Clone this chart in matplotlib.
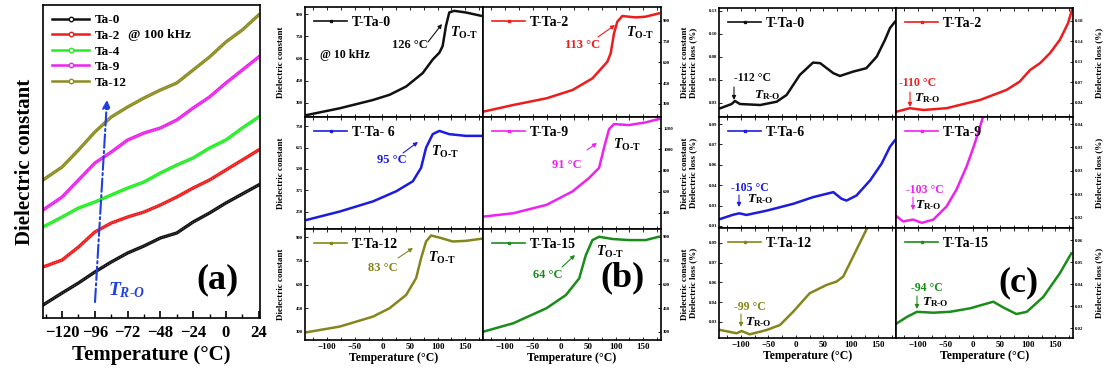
import matplotlib
matplotlib.use("Agg")
import matplotlib.pyplot as plt
from matplotlib.lines import Line2D
from matplotlib.patches import FancyArrowPatch
from matplotlib.ticker import MultipleLocator

W, H = 1107, 376

# ── panel (a): dielectric constant at 100 kHz ───────────────────────────────
a_temp = [-134, -120, -108, -96, -84, -72, -60, -48, -36, -24, -12, 0, 12, 24]
a_ta0 = [13, 25, 35, 46, 56, 65, 72, 80, 85, 96, 105, 115, 124, 133]
a_ta2 = [51, 58, 71, 86, 95, 101, 106, 113, 121, 130, 138, 148, 158, 168]
a_ta4 = [91, 101, 110, 116, 123, 130, 136, 145, 153, 160, 170, 178, 190, 201]
a_ta9 = [108, 121, 138, 155, 166, 178, 185, 190, 198, 210, 221, 235, 248, 261]
a_ta12 = [138, 151, 168, 186, 201, 211, 220, 228, 235, 248, 261, 276, 288, 303]
a_names = ["Ta-0", "Ta-2", "Ta-4", "Ta-9", "Ta-12"]

# ── panel (b): dielectric constant at 10 kHz ────────────────────────────────
b0_t = [-137, -77, -17, 13, 43, 73, 91, 103, 109, 115, 121, 130, 151, 178]
b0_v = [218, 264, 320, 355, 411, 502, 593, 639, 684, 820, 911, 922, 911, 889]
b2_t = [-139, -85, -25, 22, 58, 85, 91, 97, 103, 112, 136, 154, 178]
b2_v = [245, 293, 341, 401, 485, 605, 666, 810, 894, 935, 925, 930, 954]
b6_t = [-137, -77, -17, 25, 55, 70, 79, 91, 103, 121, 151, 178]
b6_v = [203, 252, 311, 370, 428, 507, 624, 703, 722, 703, 693, 693]
b9_t = [-139, -85, -25, 22, 52, 70, 79, 88, 97, 124, 154, 178]
b9_v = [365, 397, 476, 603, 730, 825, 1016, 1190, 1238, 1229, 1254, 1286]
b12_t = [-137, -77, -17, 13, 43, 61, 70, 79, 88, 103, 127, 151, 178]
b12_v = [298, 334, 397, 450, 534, 640, 766, 872, 910, 897, 872, 876, 889]
b15_t = [-139, -85, -25, 10, 34, 46, 58, 70, 94, 124, 154, 178]
b15_v = [302, 355, 450, 533, 638, 785, 880, 901, 887, 880, 880, 901]
b_peaks = ["126 °C", "113 °C", "95 °C", "91 °C", "83 °C", "64 °C"]

# ── panel (c): dielectric loss ──────────────────────────────────────────────
c0_t = [-138, -117, -111, -102, -65, -35, -17, 7, 31, 44, 68, 80, 104, 128, 147, 162, 171, 180]
c0_v = [0.0192, 0.0239, 0.0272, 0.0239, 0.0228, 0.0264, 0.0337, 0.0554, 0.0688, 0.0682,
        0.0573, 0.0543, 0.059, 0.0627, 0.0753, 0.0935, 0.1062, 0.113]
c2_t = [-139, -115, -90, -48, 13, 61, 85, 104, 122, 140, 158, 173, 181]
c2_v = [0.0251, 0.031, 0.028, 0.031, 0.0451, 0.0622, 0.0764, 0.0963, 0.1078, 0.1248,
        0.1476, 0.1761, 0.2017]
c6_t = [-138, -114, -103, -90, -53, -5, 31, 68, 83, 92, 110, 135, 156, 171, 180]
c6_v = [0.0201, 0.0233, 0.0243, 0.0231, 0.0263, 0.0313, 0.0362, 0.0399, 0.035, 0.0337,
        0.0374, 0.0486, 0.061, 0.0733, 0.078]
c9_t = [-139, -127, -109, -93, -72, -48, -30, -11, 4, 19]
c9_v = [0.0203, 0.0192, 0.0196, 0.0189, 0.0196, 0.0224, 0.026, 0.0311, 0.0361, 0.0418]
c12_t = [-138, -108, -99, -84, -53, -29, -5, 25, 56, 74, 86, 104, 122, 131]
c12_v = [0.0239, 0.0214, 0.0231, 0.0206, 0.0239, 0.0277, 0.0378, 0.0518, 0.0582, 0.0607,
         0.0645, 0.0797, 0.095, 0.1026]
c15_t = [-139, -120, -102, -72, -42, -5, 37, 55, 79, 98, 128, 158, 179]
c15_v = [0.0221, 0.0251, 0.0274, 0.027, 0.0274, 0.029, 0.032, 0.0294, 0.0264, 0.0274,
         0.0342, 0.0449, 0.054]
c_peaks = ["-112 °C", "-110 °C", "-105 °C", "-103 °C", "-99 °C", "-94 °C"]

# y tick positions / printed labels (labels in the source are rounded oddly)
b_yticks = [[300, 450, 600, 750, 900], [300, 450, 600, 750, 900],
            [250, 375, 500, 625, 750], [400, 600, 800, 1000, 1200],
            [300, 450, 600, 750, 900], [300, 450, 600, 750, 900]]
c_yticks = [[0.025, 0.05, 0.075, 0.1, 0.125], [0.04, 0.075, 0.11, 0.145, 0.18],
            [0.015, 0.03, 0.045, 0.06, 0.075, 0.09], [0.02, 0.025, 0.03, 0.035, 0.04],
            [0.03, 0.045, 0.06, 0.075, 0.09], [0.02, 0.03, 0.04, 0.05, 0.06]]
c_ylabels = [["0.03", "0.05", "0.08", "0.10", "0.13"], ["0.04", "0.07", "0.11", "0.14", "0.18"],
             ["0.01", "0.03", "0.04", "0.06", "0.07", "0.09"], ["0.02", "0.03", "0.03", "0.03", "0.04"],
             ["0.03", "0.04", "0.06", "0.07", "0.09"], ["0.02", "0.03", "0.04", "0.05", "0.06"]]

plt.rcParams["font.family"] = ["Liberation Serif", "DejaVu Serif"]
plt.rcParams["font.weight"] = "bold"
plt.rcParams["axes.labelweight"] = "bold"
plt.rcParams["mathtext.fontset"] = "custom"
plt.rcParams["mathtext.rm"] = "Liberation Serif:bold"
plt.rcParams["mathtext.bf"] = "Liberation Serif:bold"
plt.rcParams["mathtext.it"] = "Liberation Serif:italic:bold"
plt.rcParams["xtick.direction"] = "in"
plt.rcParams["ytick.direction"] = "in"
plt.rcParams["axes.linewidth"] = 1.2

fig = plt.figure(figsize=(W / 100, H / 100), dpi=100)


def add_box(l, t, r, b):
    return fig.add_axes([l / W, 1 - b / H, (r - l) / W, (b - t) / H])


def fp(x, y):
    return (x / W, 1 - y / H)


def note(text, x, y, color="k", size=9, ha="center"):
    fig.text(*fp(x, y), text, color=color, fontsize=size, ha=ha, va="center",
             fontweight="bold")


def arrow(x0, y0, x1, y1, color="k", ls="-", lw=0.8, scale=6):
    fig.add_artist(FancyArrowPatch(fp(x0, y0), fp(x1, y1), transform=fig.transFigure,
                                   arrowstyle="-|>", color=color, lw=lw, linestyle=ls,
                                   mutation_scale=scale, shrinkA=0, shrinkB=0))


# ── (a) ─────────────────────────────────────────────────────────────────────
ax = add_box(43, 5, 260, 318)
a_series = [a_ta0, a_ta2, a_ta4, a_ta9, a_ta12]
a_cols = ["#111111", "#ee1c1c", "#22ee22", "#ee22ee", "#8c8c22"]
handles = []
for vals, col, name in zip(a_series, a_cols, a_names):
    ax.plot(a_temp, vals, color=col, lw=2.4)
    ax.plot(a_temp, vals, color="white", lw=0.6, ls=(0, (0.8, 1.8)), alpha=0.5)
    handles.append(Line2D([], [], color=col, lw=1.8, marker="o", ms=3.2,
                          mfc="white", mec=col, mew=1.0))
ax.set_xlim(-134, 25)
ax.set_ylim(0, 313)
ax.set_yticks([])
ax.xaxis.set_major_locator(MultipleLocator(24))
ax.xaxis.set_minor_locator(MultipleLocator(12))
ax.tick_params(axis="x", which="major", length=5, width=1.2, labelsize=12, pad=5)
ax.tick_params(axis="x", which="minor", length=3, width=1.0)
ax.set_xlabel("Temperature (°C)", fontsize=15, labelpad=3)
ax.set_ylabel("Dielectric constant", fontsize=15, labelpad=6)
ax.legend(handles=handles, labels=a_names, loc="upper left", frameon=False,
          handlelength=2.8, labelspacing=0.25, handletextpad=0.4,
          borderaxespad=0.3, prop={"weight": "bold", "size": 9.5})
note("@ 100 kHz", 128, 35, size=9.5, ha="left")
note("(a)", 217, 280, size=26)
arrow(95, 302, 107, 100, color="#1f3fe0", ls="-.", lw=1.5, scale=12)
fig.text(*fp(108, 290), r"$T_{R\text{-}O}$", color="#1f3fe0", fontsize=14,
         ha="left", va="center")

# ── (b) and (c) grids ───────────────────────────────────────────────────────
b_cols_px = [(305, 483), (483, 661)]
b_rows_px = [(7, 117), (117, 229), (229, 340)]
c_cols_px = [(719, 896), (896, 1073)]
c_rows_px = [(8, 117), (117, 228), (228, 338)]

names_b = ["T-Ta-0", "T-Ta-2", "T-Ta- 6", "T-Ta-9", "T-Ta-12", "T-Ta-15"]
names_c = ["T-Ta-0", "T-Ta-2", "T-Ta-6", "T-Ta-9", "T-Ta-12", "T-Ta-15"]
cols6 = ["#111111", "#ee1c1c", "#1c1ce0", "#ee22ee", "#85851c", "#1a8c1a"]
b_data = [(b0_t, b0_v), (b2_t, b2_v), (b6_t, b6_v), (b9_t, b9_v), (b12_t, b12_v), (b15_t, b15_v)]
c_data = [(c0_t, c0_v), (c2_t, c2_v), (c6_t, c6_v), (c9_t, c9_v), (c12_t, c12_v), (c15_t, c15_v)]
b_ylims = [(205, 948), (206, 1000), (150, 803), (248, 1305), (249, 951), (249, 950)]
c_ylims = [(0.0098, 0.128), (0.016, 0.202), (0.0135, 0.0952), (0.0178, 0.0415),
           (0.0178, 0.1014), (0.0155, 0.0655)]


def small_panel(box, data, color, name, ylim, yticks, ylabels, right, ylabel, bottom):
    (l, r), (t, b) = box
    ax = add_box(l, t, r, b)
    ax.plot(*data, color=color, lw=1.8)
    ax.set_xlim(-140, 182)
    ax.set_ylim(*ylim)
    ax.set_yticks(yticks)
    ax.set_yticklabels(ylabels if ylabels else [str(v) for v in yticks])
    ax.xaxis.set_major_locator(MultipleLocator(50))
    ax.xaxis.set_minor_locator(MultipleLocator(25))
    ax.tick_params(axis="y", labelsize=3.5, length=2, width=0.6, pad=1.5)
    ax.tick_params(axis="x", which="both", top=True, length=2, width=0.6,
                   labelsize=6.5, pad=2, labelbottom=bottom)
    if right:
        ax.yaxis.tick_right()
        ax.yaxis.set_label_position("right")
        ax.set_ylabel(ylabel, fontsize=6.5, rotation=90)
    else:
        ax.set_ylabel(ylabel, fontsize=6.5)
    if bottom:
        ax.set_xlabel("Temperature (°C)", fontsize=8.5, labelpad=1)
    h = Line2D([], [], color=color, lw=1.2, marker="s", ms=1.5)
    ax.legend(handles=[h], labels=[name], loc="upper left", frameon=False,
              handlelength=2.4, handletextpad=0.3, borderaxespad=0.25,
              prop={"weight": "bold", "size": 10})
    return ax


for i in range(6):
    row, col = divmod(i, 2)
    axb = small_panel((b_cols_px[col], b_rows_px[row]), b_data[i], cols6[i], names_b[i],
                      b_ylims[i], b_yticks[i], None, col == 1, "Dielectric constant", row == 2)
    axb.yaxis.set_label_coords(1.115 if col else -0.112, 0.5)
    axc = small_panel((c_cols_px[col], c_rows_px[row]), c_data[i], cols6[i], names_c[i],
                      c_ylims[i], c_yticks[i], c_ylabels[i], col == 1, "Dielectric loss (%)", row == 2)
    axc.yaxis.set_label_coords(1.124 if col else -0.124, 0.5)

# (b) annotations: peak temperature, arrow, T_O-T
tot = r"$T_{\mathrm{O\text{-}T}}$"
b_notes = [((410, 45), (428, 42, 442, 24), (464, 33)),
           ((583, 45), (598, 37, 615, 25), (640, 33)),
           ((392, 160), (403, 153, 418, 142), (445, 152)),
           ((567, 165), (587, 150, 597, 143), (627, 145)),
           ((383, 268), (398, 258, 413, 248), (442, 258)),
           ((548, 275), (562, 267, 575, 255), (610, 252))]
for i, (tp, ap, lp) in enumerate(b_notes):
    note(b_peaks[i], *tp, color=cols6[i], size=9)
    arrow(*ap, color=cols6[i])
    fig.text(*fp(*lp), tot, fontsize=10, ha="center", va="center")
note("@ 10 kHz", 320, 55, size=8.5, ha="left")
note("(b)", 623, 278, size=26)

# (c) annotations: peak temperature, down arrow, T_R-O
tro = r"$T_{\mathrm{R\text{-}O}}$"
c_notes = [((752, 78), (734, 87, 734, 100), (767, 95)),
           ((918, 83), (910, 92, 910, 107), (927, 98)),
           ((750, 188), (739, 195, 739, 207), (760, 199)),
           ((925, 190), (913, 197, 913, 210), (928, 205)),
           ((750, 307), (741, 314, 741, 327), (758, 322)),
           ((927, 288), (917, 296, 917, 309), (935, 302))]
for i, (tp, ap, lp) in enumerate(c_notes):
    note(c_peaks[i], *tp, color=cols6[i], size=8.5)
    arrow(*ap, color=cols6[i])
    fig.text(*fp(*lp), tro, fontsize=9.5, ha="center", va="center")
note("(c)", 1018, 283, size=26)

fig.savefig("out.png", dpi=100)
